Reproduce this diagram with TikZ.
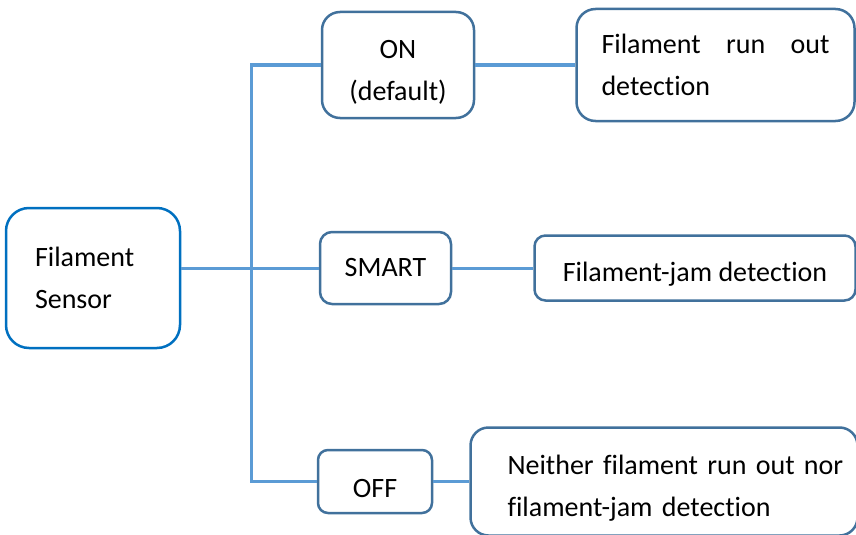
\documentclass[tikz,border=0pt]{standalone}
\usepackage{fontspec}
\setmainfont{Carlito}[Ligatures=NoCommon]
\usepackage{xcolor}
\usetikzlibrary{positioning}
\definecolor{sensorblue}{RGB}{0,112,192}
\definecolor{boxblue}{RGB}{65,113,156}
\definecolor{linkblue}{RGB}{91,155,213}
\hyphenpenalty=10000
\exhyphenpenalty=10000
\newcommand{\dropstrut}{\rule{0pt}{32pt}}

\begin{document}
\begin{tikzpicture}[
  x=1pt, y=-1pt,
  box/.style = {
    rectangle, draw=boxblue, fill=white,
    line width=2.5pt, align=center,
    font=\fontsize{28}{42}\selectfont,
    inner sep=0pt
  },
  sensorbox/.style = {
    box, draw=sensorblue, rounded corners=23pt,
    text width=116pt, align=left, inner xsep=29pt,
    minimum height=140pt
  },
  link/.style = {line width=3pt, linkblue}
]
\useasboundingbox (0,0) rectangle (856,535);

\node[sensorbox] (sensor) at (93,278) {Filament\\Sensor};
\node[box, rounded corners=18pt, minimum width=152pt, minimum height=106pt] (on) at (398,65) {\dropstrut ON\\(default)};
\node[box, rounded corners=12pt, minimum width=131pt, minimum height=72pt] (smart) at (385.5,268) {SMART};
\node[box, rounded corners=10pt, minimum width=114pt, minimum height=63pt] (off) at (375,481.5) {\dropstrut OFF};

\node[box, rounded corners=19pt, text width=228pt, align=justify, inner xsep=25pt,
      minimum height=112pt, right=100pt of on] (runout) {Filament run out detection};
\node[box, rounded corners=11pt, minimum width=321pt, minimum height=65pt,
      right=81pt of smart] (jam) {\dropstrut Filament-jam detection};
\node[box, rounded corners=18pt, text width=313pt, align=left, inner xsep=37pt,
      minimum height=108pt, right=36pt of off] (neither)
      {\mbox{\dropstrut Neither filament run out nor}\\\mbox{filament-jam detection}};

\coordinate (trunk) at (251,0);

\draw[link] (on.west) -- (on.west -| trunk) -- (off.west -| trunk) -- (off.west);
\draw[link] (smart.west -| sensor.east) -- (smart.west);
\draw[link] (on.east) -- (runout.west);
\draw[link] (smart.east) -- (jam.west);
\draw[link] (off.east) -- (neither.west);
\end{tikzpicture}
\end{document}
